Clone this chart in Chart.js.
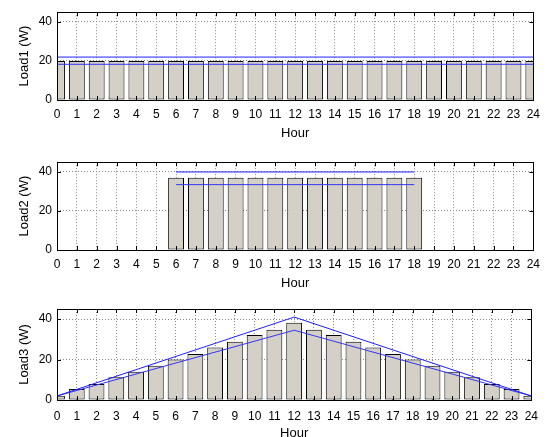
<!DOCTYPE html>
<html>
<head>
<meta charset="utf-8">
<script src="https://cdn.jsdelivr.net/npm/chart.js@4"></script>
<style>
  html, body { margin: 0; padding: 0; background: #fff; overflow: hidden; }
  body { width: 547px; height: 437px; position: relative; }
  canvas { position: absolute; left: 0; }
</style>
</head>
<body>
<canvas id="c1" width="547" height="145" style="top:0px"></canvas>
<canvas id="c2" width="547" height="145" style="top:150px"></canvas>
<canvas id="c3" width="547" height="149" style="top:296px"></canvas>
<script>
// heures 0..24
const hours = [0,1,2,3,4,5,6,7,8,9,10,11,12,13,14,15,16,17,18,19,20,21,22,23,24];
const yTicks = [0, 20, 40];

// Load1 : charge constante
const load1 = [20,20,20,20,20,20,20,20,20,20,20,20,20,20,20,20,20,20,20,20,20,20,20,20,20];
const load1High = [{x:0, y:22}, {x:24, y:22}];
const load1Low  = [{x:0, y:18.3}, {x:24, y:18.3}];

// Load2 : 6h -> 18h
const load2 = [0,0,0,0,0,0,37,37,37,37,37,37,37,37,37,37,37,37,37,0,0,0,0,0,0];
const load2High = [{x:6, y:40}, {x:18, y:40}];
const load2Low  = [{x:6, y:33.5}, {x:18, y:33.5}];

// Load3 : triangle
const load3 = [2.1,5.5,7.9,11.2,14,16.9,20,22.8,26,28.8,32.1,34.7,38.2,34.7,32.1,28.8,26,22.8,20,16.9,14,11.2,7.9,5.5,2.1];
const load3High = [{x:0, y:2}, {x:12, y:41}, {x:24, y:2}];
const load3Low  = [{x:0, y:2}, {x:12, y:34.5}, {x:24, y:2}];

const FONT = "'Liberation Sans', Arial, sans-serif";

// cadre + graduations vers l'interieur (style matlab)
const boxPlugin = {
  id: "matlabBox",
  afterDraw(chart){
    const c = chart.ctx, a = chart.chartArea;
    const xs = chart.scales.x, ys = chart.scales.y;
    c.save();
    c.setLineDash([]);
    c.strokeStyle = "#000";
    c.lineWidth = 1;
    c.beginPath();
    hours.forEach(h => {
      const px = Math.round(xs.getPixelForValue(h)) + 0.5;
      c.moveTo(px, a.top); c.lineTo(px, a.top + 4);
      c.moveTo(px, a.bottom); c.lineTo(px, a.bottom - 4);
    });
    yTicks.forEach(v => {
      const py = Math.round(ys.getPixelForValue(v)) + 0.5;
      c.moveTo(a.left, py); c.lineTo(a.left + 4, py);
      c.moveTo(a.right, py); c.lineTo(a.right - 4, py);
    });
    c.stroke();
    c.strokeRect(Math.round(a.left) + 0.5, Math.round(a.top) + 0.5,
                 Math.round(a.right - a.left), Math.round(a.bottom - a.top));
    c.restore();
  }
};

function makeChart(id, label, values, high, low, padTop, tickPad){
  const bars = hours.map((h, i) => ({x: h, y: values[i]}));
  return new Chart(document.getElementById(id), {
    type: "bar",
    data: {
      datasets: [
        { type: "line", data: high, borderColor: "#2020ff", borderWidth: 1, pointRadius: 0, order: 1 },
        { type: "line", data: low, borderColor: "#3535f0", borderWidth: 1, pointRadius: 0, order: 1 },
        {
          data: bars,
          backgroundColor: "#d4d0c8",
          borderColor: "#000",
          borderWidth: 1,
          borderSkipped: false,
          barPercentage: 0.8,
          categoryPercentage: 1,
          order: 2
        }
      ]
    },
    options: {
      responsive: false,
      animation: false,
      layout: { padding: { top: padTop, right: 10, left: 0, bottom: 0 } },
      plugins: { legend: { display: false }, tooltip: { enabled: false } },
      scales: {
        x: {
          type: "linear",
          min: 0, max: 24,
          offset: false,
          afterBuildTicks: s => { s.ticks = hours.map(v => ({value: v})); },
          afterFit: s => { s.height = 45; },
          ticks: { autoSkip: false, maxRotation: 0, padding: tickPad, color: "#000", font: { family: FONT, size: 12 } },
          grid: { drawTicks: false, color: "#8a8a8a", offset: false },
          border: { display: false, dash: [1, 2] },
          title: { display: true, text: "Hour", color: "#000", font: { family: FONT, size: 13 }, padding: { top: 0, bottom: 4 } }
        },
        y: {
          min: 0, max: 45,
          afterBuildTicks: s => { s.ticks = yTicks.map(v => ({value: v})); },
          afterFit: s => { s.width = 57; },
          ticks: { padding: 5, color: "#000", font: { family: FONT, size: 12 } },
          grid: { drawTicks: false, color: "#8a8a8a" },
          border: { display: false, dash: [1, 2] },
          title: { display: true, text: label, color: "#000", font: { family: FONT, size: 13 }, padding: { top: 17, bottom: 0 } }
        }
      }
    },
    plugins: [boxPlugin]
  });
}

makeChart("c1", "Load1 (W)", load1, load1High, load1Low, 10, 7);
makeChart("c2", "Load2 (W)", load2, load2High, load2Low, 10, 7);
makeChart("c3", "Load3 (W)", load3, load3High, load3Low, 13, 9);
</script>
</body>
</html>
